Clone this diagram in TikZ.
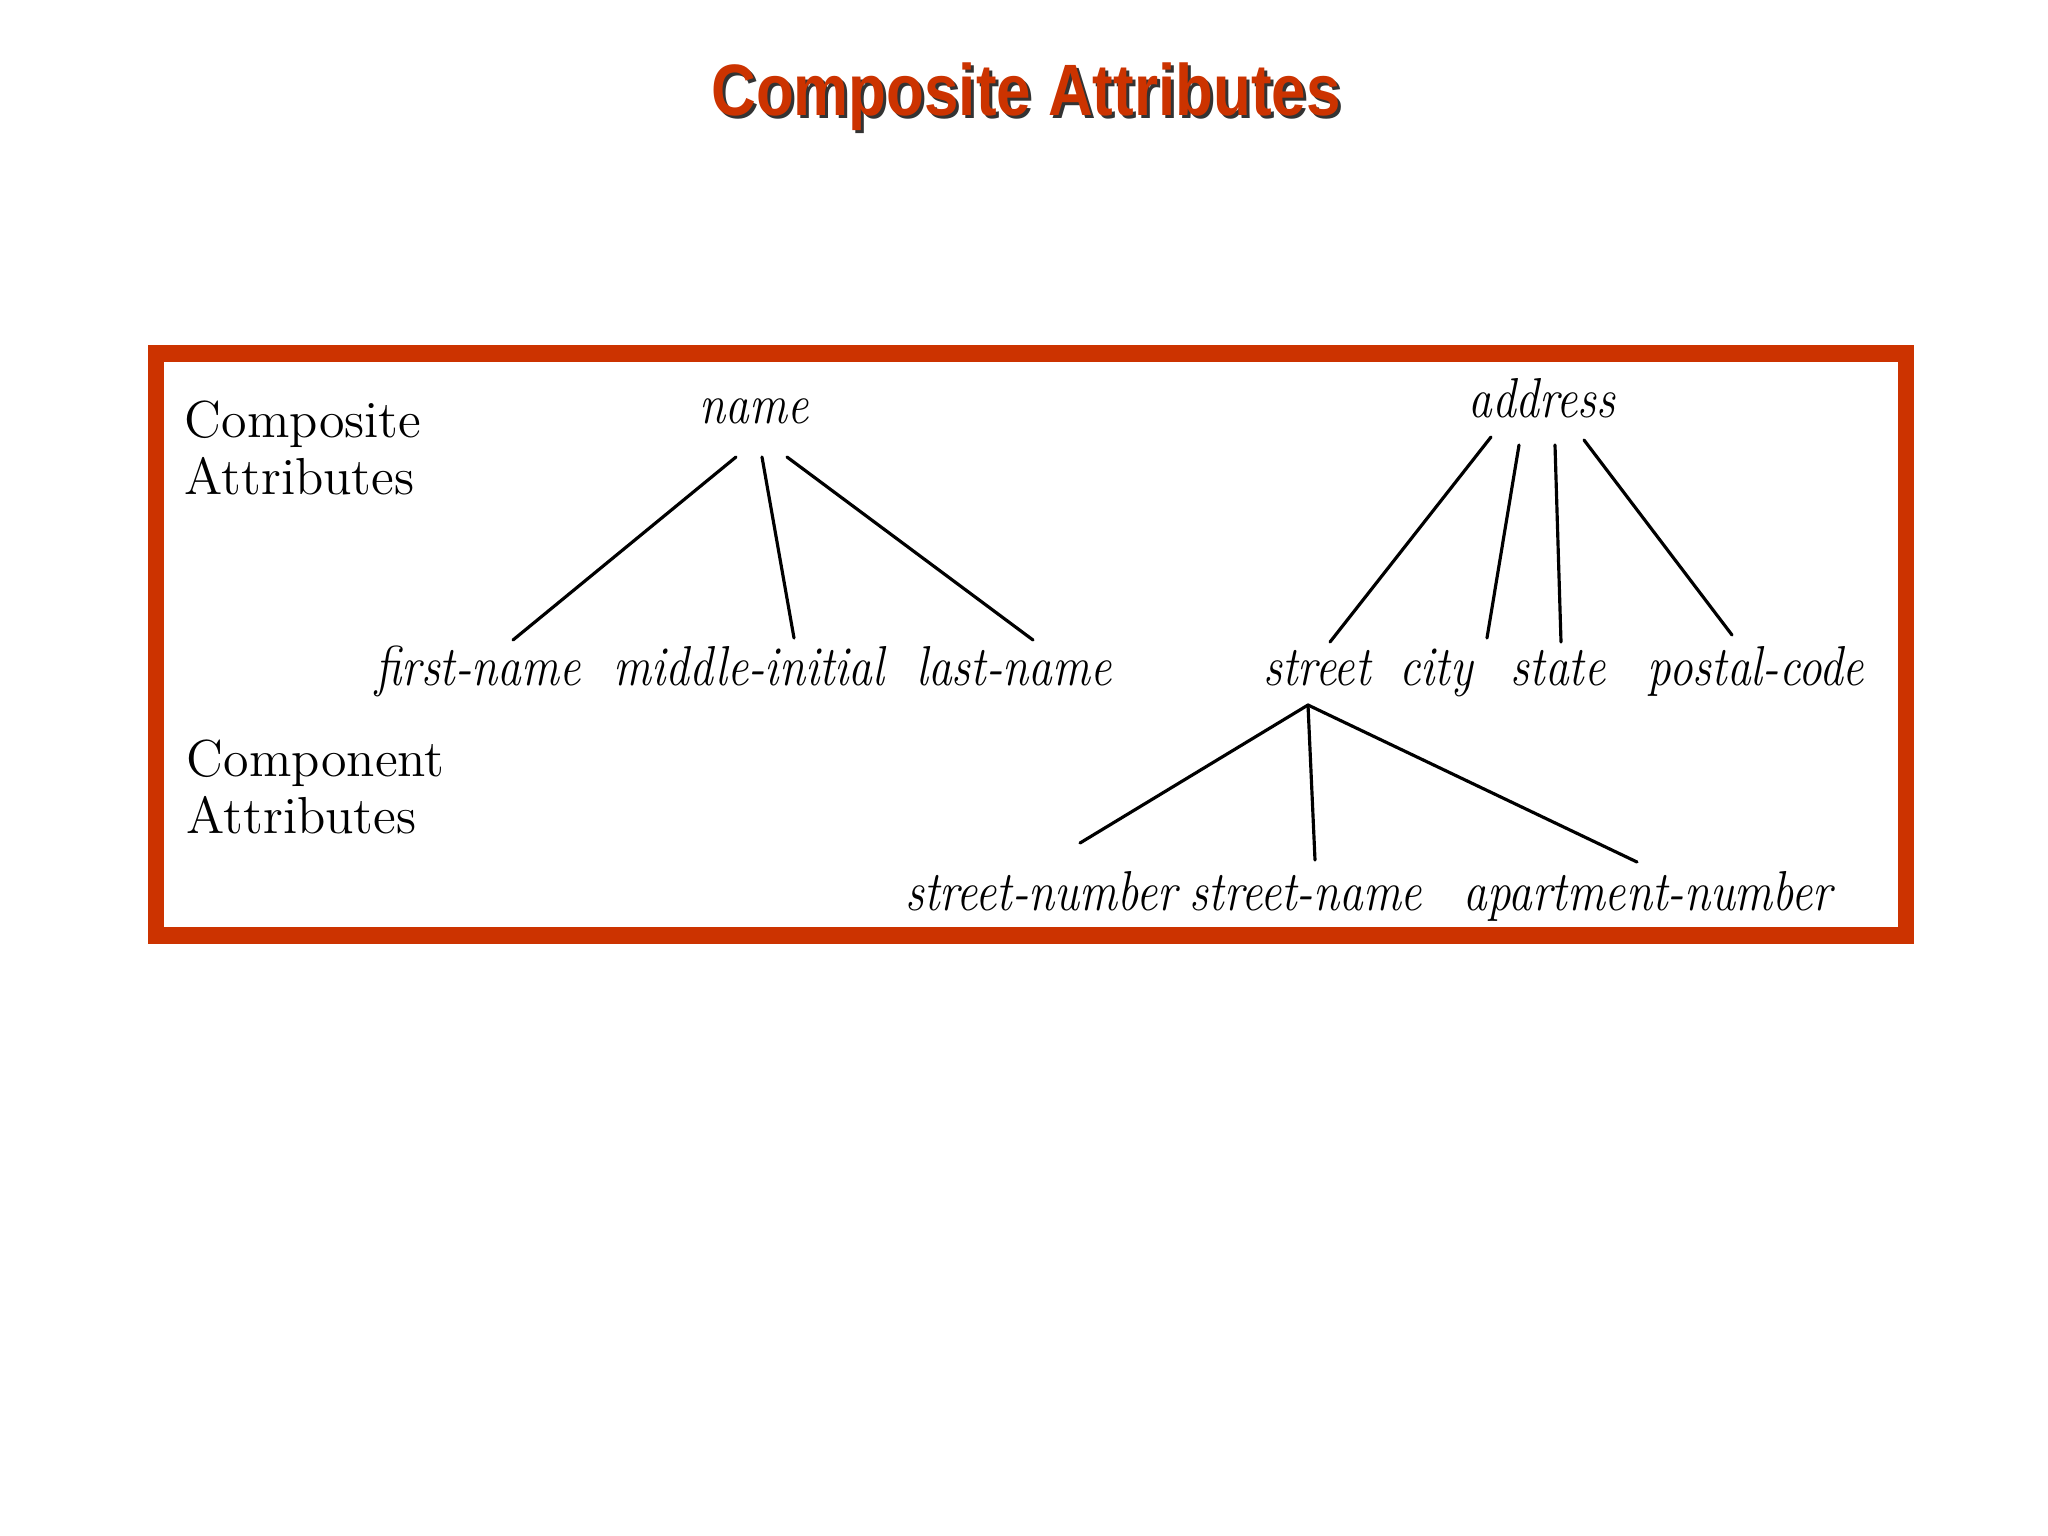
\documentclass[tikz,border=0pt]{standalone}
\usepackage{fontspec}
\usepackage{graphicx}
\usetikzlibrary{calc}
\newfontfamily\titlefont{Liberation Sans}
\definecolor{slidered}{RGB}{204,51,0}
\newcommand{\narrow}[1]{\scalebox{0.84}[1]{#1}}
\tikzset{
	attr/.style = {inner sep=0pt, anchor=base, font=\fontsize{16}{19}\selectfont\itshape},
	side/.style = {inner sep=0pt, anchor=base west, align=left, font=\fontsize{14.8}{16.2}\selectfont},
	link/.style = {line width=0.9pt, line cap=round}
}

\begin{document}
\begin{tikzpicture}[x=0.01cm, y=-0.01cm,
	title_style/.style={
	    inner sep=0pt,
	    anchor=base,
	    font=\titlefont\bfseries\fontsize{20.7}{24}\selectfont
	    }
	]
	\fill[white] (0,0) rectangle (2048,1536);
	\useasboundingbox (0,0) rectangle (2048,1536);

	% slide title with its shadow
	\node[title_style, text=black!80] (titleshadow) at (1029,118) {\scalebox{0.85}[1]{Composite Attributes}};
	\node[title_style, text=slidered] (title) at (1026,115) {\scalebox{0.85}[1]{Composite Attributes}};

	\draw[slidered, line width=0.165cm] (156,353.5) rectangle (1906,935.5);

	% base anchor sits on the last line
	\node[side] (complabel) at (184,494) {Composite\\Attributes};
	\node[side] (partlabel) at (186,833) {Component\\Attributes};

	% all the nodes
	\node[attr] (name) at (754,423) {\narrow{name}};
	\node[attr] (first) at (478,685) {\narrow{first-name}};
	\node[attr] (middle) at (749,685) {\narrow{middle-initial}};
	\node[attr] (last) at (1014,685) {\narrow{last-name}};

	\node[attr] (address) at (1542,417) {\narrow{address}};
	\node[attr] (street) at (1317,685) {\narrow{street}};
	\node[attr] (city) at (1436,685) {\narrow{city}};
	\node[attr] (state) at (1558,685) {\narrow{state}};
	\node[attr] (postal) at (1756,685) {\narrow{postal-code}};

	\node[attr] (stnumber) at (1041,910) {\narrow{street-number}};
	\node[attr] (stname) at (1306,910) {\narrow{street-name}};
	\node[attr] (aptnumber) at (1648,910) {\narrow{apartment-number}};

	\draw[link] ($(name.base)+(-18,34)$) -- ($(first.base)+(35,-45)$);
	\draw[link] ($(name.base)+(8,34)$) -- ($(middle.base)+(45,-47)$);
	\draw[link] ($(name.base)+(33,34)$) -- ($(last.base)+(19,-45)$);

	\draw[link] ($(address.base)+(-51,20)$) -- ($(street.base)+(13,-43)$);
	\draw[link] ($(address.base)+(-23,28)$) -- ($(city.base)+(51,-47)$);
	\draw[link] ($(address.base)+(13,28)$) -- ($(state.base)+(3,-43)$);
	\draw[link] ($(address.base)+(42,23)$) -- ($(postal.base)+(-24,-50)$);

	\draw[link] ($(street.base)+(-9,20)$) -- ($(stnumber.base)+(39,-67)$);
	\draw[link] ($(street.base)+(-9,20)$) -- ($(stname.base)+(9,-50)$);
	\draw[link] ($(street.base)+(-9,20)$) -- ($(aptnumber.base)+(-11,-48)$);
\end{tikzpicture}
\end{document}
